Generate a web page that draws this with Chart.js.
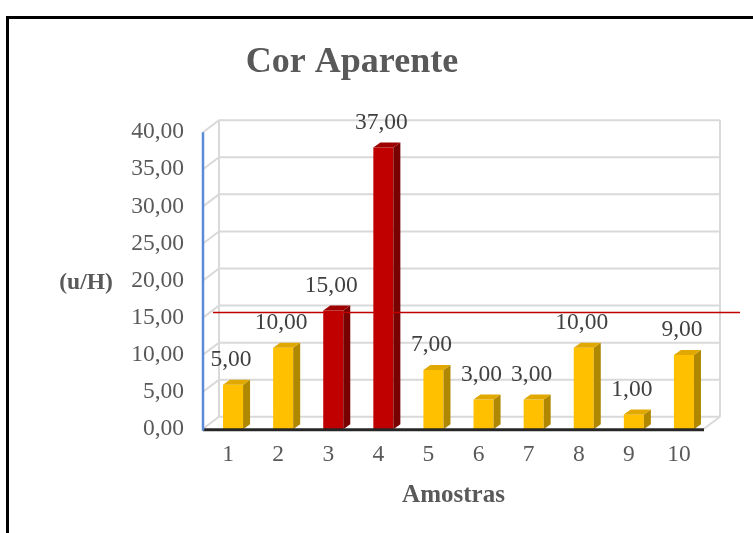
<!DOCTYPE html>
<html lang="pt">
<head>
<meta charset="UTF-8">
<title>Cor Aparente</title>
<script src="https://cdn.jsdelivr.net/npm/chart.js@4/dist/chart.umd.min.js"></script>
<style>
  body { margin: 0; background: #fff; }
  #wrap { position: relative; width: 753px; height: 533px; overflow: hidden; }
  #frame { position: absolute; left: 6px; top: 16px; width: 800px; height: 600px; border: 3px solid #000; }
  #myChart { position: absolute; left: 0; top: 0; }
</style>
</head>
<body>
<div id="wrap">
  <div id="frame"></div>
  <canvas id="myChart" width="753" height="533"></canvas>
</div>

<script>
  // dados
  const amostras = ['1', '2', '3', '4', '5', '6', '7', '8', '9', '10'];
  const valores = [5, 10, 15, 37, 7, 3, 3, 10, 1, 9];
  const limite = 15;
  const yMin = 0, yMax = 40, yStep = 5;

  const serif = '"Liberation Serif", "Times New Roman", serif';
  const fmt = v => v.toFixed(2).replace('.', ',');

  const amarelo = { front: '#FFC000', side: '#B08800', top: '#E0A800' };
  const vermelho = { front: '#C00000', side: '#780000', top: '#9E0000' };
  const cor = v => v >= limite ? vermelho : amarelo;

  const wall = { dx: 16, dy: -12 };   // back wall offset
  const shift = { x: 5, y: -7 };      // bars sit mid-depth
  const bd = { x: 7, y: -5 };         // bar depth

  const fake3d = {
    id: 'fake3d',
    beforeDatasetsDraw(chart) {
      const { ctx, chartArea: a, scales: { y } } = chart;
      ctx.save();
      ctx.strokeStyle = '#D9D9D9';
      ctx.lineWidth = 2;
      for (let v = yMin; v <= yMax; v += yStep) {
        const py = y.getPixelForValue(v);
        ctx.beginPath();
        ctx.moveTo(a.left, py);
        ctx.lineTo(a.left + wall.dx, py + wall.dy);
        ctx.lineTo(a.right + wall.dx, py + wall.dy);
        ctx.stroke();
      }
      ctx.beginPath();
      ctx.moveTo(a.left + wall.dx, a.top + wall.dy);
      ctx.lineTo(a.left + wall.dx, a.bottom + wall.dy);
      ctx.moveTo(a.right + wall.dx, a.top + wall.dy);
      ctx.lineTo(a.right + wall.dx, a.bottom + wall.dy);
      ctx.moveTo(a.right, a.bottom);
      ctx.lineTo(a.right + wall.dx, a.bottom + wall.dy);
      ctx.stroke();
      ctx.restore();
      ctx.save();
      ctx.translate(shift.x, shift.y);
    },
    afterDatasetsDraw(chart) {
      const { ctx, chartArea: a, scales: { y } } = chart;
      ctx.restore();
      ctx.save();
      const meta = chart.getDatasetMeta(0);
      meta.data.forEach((el, i) => {
        const c = cor(valores[i]);
        const xl = el.x - el.width / 2 + shift.x;
        const xr = xl + el.width;
        const yt = el.y + shift.y;
        const yb = el.base + shift.y;
        // side
        ctx.fillStyle = c.side;
        ctx.beginPath();
        ctx.moveTo(xr, yt);
        ctx.lineTo(xr + bd.x, yt + bd.y);
        ctx.lineTo(xr + bd.x, yb + bd.y);
        ctx.lineTo(xr, yb);
        ctx.closePath();
        ctx.fill();
        // top
        ctx.fillStyle = c.top;
        ctx.beginPath();
        ctx.moveTo(xl, yt);
        ctx.lineTo(xr, yt);
        ctx.lineTo(xr + bd.x, yt + bd.y);
        ctx.lineTo(xl + bd.x, yt + bd.y);
        ctx.closePath();
        ctx.fill();
        // rotulo
        ctx.fillStyle = '#404040';
        ctx.font = '23.5px ' + serif;
        ctx.textAlign = 'center';
        ctx.textBaseline = 'middle';
        ctx.fillText(fmt(valores[i]), el.x + 3, yt - 25);
      });

      // piso
      ctx.strokeStyle = '#262626';
      ctx.lineWidth = 3;
      ctx.beginPath();
      ctx.moveTo(a.left, a.bottom + 1);
      ctx.lineTo(a.right, a.bottom + 1);
      ctx.stroke();

      // eixo y
      ctx.strokeStyle = '#5B8AD6';
      ctx.lineWidth = 2.5;
      ctx.beginPath();
      ctx.moveTo(a.left, a.top);
      ctx.lineTo(a.left, a.bottom + 2);
      ctx.stroke();

      // linha limite
      const ly = y.getPixelForValue(limite) - 5;
      ctx.strokeStyle = '#C00000';
      ctx.lineWidth = 1.5;
      ctx.beginPath();
      ctx.moveTo(a.left + 10, ly);
      ctx.lineTo(740, ly);
      ctx.stroke();

      // titulo eixo y
      ctx.fillStyle = '#595959';
      ctx.font = 'bold 23.5px ' + serif;
      ctx.textAlign = 'center';
      ctx.textBaseline = 'middle';
      ctx.fillText('(u/H)', 86, y.getPixelForValue(20) + 2);
      ctx.restore();
    }
  };

  new Chart(document.getElementById('myChart'), {
    type: 'bar',
    data: {
      labels: amostras,
      datasets: [{
        data: valores,
        backgroundColor: valores.map(v => cor(v).front),
        barPercentage: 0.4,
        categoryPercentage: 1,
        base: -1,
        clip: false
      }]
    },
    options: {
      responsive: false,
      animation: false,
      layout: { padding: { left: 0, right: 49, top: 0, bottom: 22 } },
      plugins: {
        legend: { display: false },
        tooltip: { enabled: false },
        title: {
          display: true,
          text: 'Cor Aparente',
          color: '#595959',
          font: { family: serif, size: 36, weight: 'bold' },
          padding: { top: 41, bottom: 48 }
        }
      },
      scales: {
        x: {
          grid: { display: false, drawTicks: false },
          border: { display: false },
          ticks: { color: '#595959', font: { family: serif, size: 23.5 }, padding: 12 },
          title: {
            display: true,
            text: 'Amostras',
            color: '#595959',
            font: { family: serif, size: 25, weight: 'bold' },
            padding: { top: 0, bottom: 0 }
          }
        },
        y: {
          min: yMin,
          max: yMax,
          grid: { display: false, drawTicks: false },
          border: { display: false },
          ticks: {
            stepSize: yStep,
            color: '#595959',
            font: { family: serif, size: 23.5 },
            padding: 19,
            callback: v => fmt(v)
          },
          afterFit: scale => { scale.width = 203; }
        }
      }
    },
    plugins: [fake3d]
  });
</script>
</body>
</html>
